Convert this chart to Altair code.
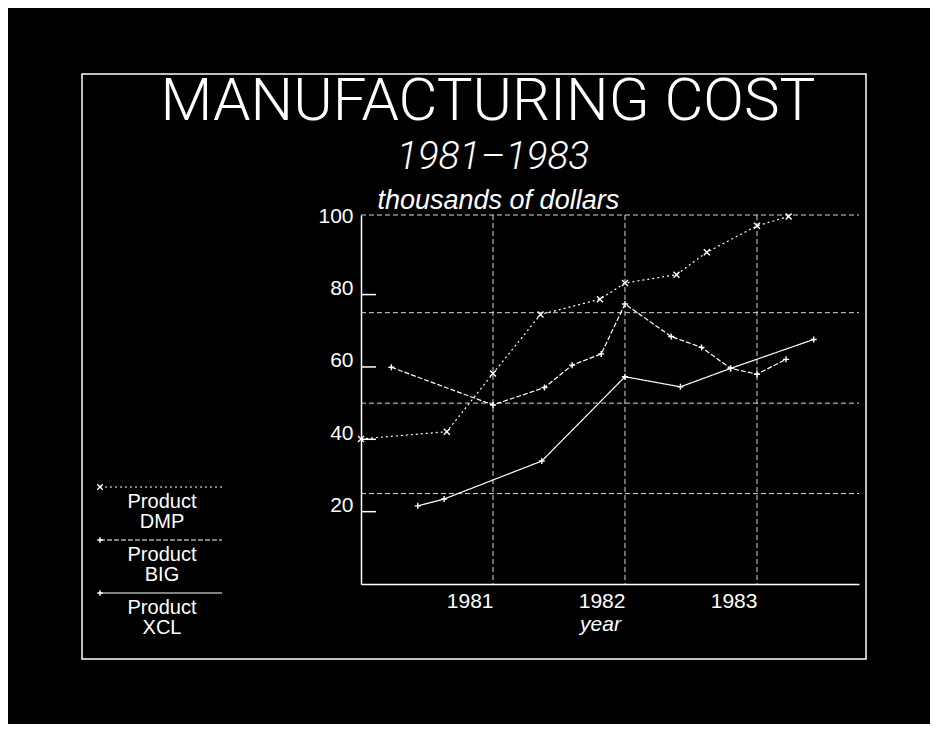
import altair as alt
import pandas as pd

# ---- data ----
products = ["DMP", "BIG", "XCL"]

dmp_year = [1980.0, 1980.65, 1981.0, 1981.36, 1981.81, 1982.0, 1982.39, 1982.62, 1983.0, 1983.24]
dmp_cost = [40.1, 42.1, 58.2, 74.5, 78.7, 83.2, 85.5, 91.7, 99.0, 101.6]

big_year = [1980.23, 1981.0, 1981.39, 1981.60, 1981.82, 1982.0, 1982.35, 1982.58, 1982.80, 1983.0, 1983.22]
big_cost = [59.9, 49.5, 54.3, 60.5, 63.6, 77.4, 68.4, 65.4, 59.6, 58.0, 62.1]

xcl_year = [1980.43, 1980.63, 1981.37, 1982.0, 1982.42, 1982.80, 1983.43]
xcl_cost = [21.6, 23.5, 34.0, 57.3, 54.5, 59.6, 67.6]

year_ticks = [1981, 1982, 1983]
cost_ticks = [20, 40, 60, 80, 100]
cost_grid = [25, 50, 75, 102]

title_text = "MANUFACTURING COST"
subtitle_text = "1981\u20131983"
y_title = "thousands of dollars"
x_title = "year"
legend_prefix = "Product"

# ---- table ----
rows = []
for name, yrs, cs in [("DMP", dmp_year, dmp_cost), ("BIG", big_year, big_cost), ("XCL", xcl_year, xcl_cost)]:
    for y, c in zip(yrs, cs):
        rows.append({"product": name, "year": y, "cost": c})
df = pd.DataFrame(rows)

W, H = 498, 369
FONT = "Liberation Sans"
WHITE = "#ffffff"
GRID = "#d8d8d8"

xs = alt.Scale(domain=[1980, 1983.773], nice=False, zero=False)
ys = alt.Scale(domain=[0, 102], nice=False, zero=True)

x_axis = alt.Axis(
    values=year_ticks, format="d", ticks=False, grid=False,
    domainColor=WHITE, domainWidth=1.5,
    labelColor=WHITE, labelFont=FONT, labelFontSize=21,
    labelAlign="right", labelBaseline="top", labelPadding=6, labelFlush=False,
    title=x_title, titleColor=WHITE, titleFont=FONT, titleFontSize=21,
    titleFontStyle="italic", titleFontWeight="normal",
    titleX=239, titleY=46, titleAlign="center", titleBaseline="alphabetic")
y_axis = alt.Axis(
    values=cost_ticks, ticks=False, grid=False,
    domainColor=WHITE, domainWidth=1.5,
    labelColor=WHITE, labelFont=FONT, labelFontSize=21,
    labelBaseline="alphabetic", labelPadding=8, labelFlush=False,
    title=y_title, titleColor=WHITE, titleFont=FONT, titleFontSize=27,
    titleFontStyle="italic", titleFontWeight="normal", titleAngle=0,
    titleX=16, titleY=-7, titleAlign="left", titleBaseline="alphabetic")

X = alt.X("year:Q", scale=xs, axis=x_axis)
Y = alt.Y("cost:Q", scale=ys, axis=y_axis)

x_path = "M-1,-1L1,1M-1,1L1,-1"
plus_path = "M-1,0L1,0M0,-1L0,1"
dash_range = [[2, 3], [5, 2], [1, 0]]
shape_range = [x_path, plus_path, plus_path]

lines = alt.Chart(df).mark_line(color=WHITE, strokeWidth=1.2).encode(
    x=X, y=Y,
    strokeDash=alt.StrokeDash("product:N", scale=alt.Scale(domain=products, range=dash_range), legend=None),
    detail="product:N",
)

points = alt.Chart(df).mark_point(filled=False, color=WHITE, strokeWidth=1.4, size=36, opacity=1).encode(
    x=X, y=Y,
    shape=alt.Shape("product:N", scale=alt.Scale(domain=products, range=shape_range), legend=None),
)

hgrid = alt.Chart(pd.DataFrame({"cost": cost_grid})).mark_rule(
    color=GRID, strokeWidth=1, strokeDash=[5, 3]).encode(
    y=Y, x=alt.value(0), x2=alt.value(W))

vgrid = alt.Chart(pd.DataFrame({"year": year_ticks})).mark_rule(
    color=GRID, strokeWidth=1, strokeDash=[5, 3]).encode(
    x=X, y=alt.value(0), y2=alt.value(H))

yticks = alt.Chart(pd.DataFrame({"cost": cost_ticks[:-1]})).mark_rule(
    color=WHITE, strokeWidth=1.5).encode(
    y=Y, x=alt.value(0), x2=alt.value(15))

# ---- titles & frame ----
title = alt.Chart(pd.DataFrame({"t": [title_text]})).mark_text(
    font="Roboto", fontWeight=300, fontSize=60, color=WHITE, align="center", baseline="alphabetic").encode(
    text="t:N", x=alt.value(127), y=alt.value(-95))
subtitle = alt.Chart(pd.DataFrame({"t": [subtitle_text]})).mark_text(
    font="Roboto", fontWeight=300, fontStyle="italic", fontSize=39, color=WHITE,
    align="center", baseline="alphabetic").encode(
    text="t:N", x=alt.value(132), y=alt.value(-46))

frame = alt.Chart(pd.DataFrame({"a": [0]})).mark_rect(
    fill=None, stroke=WHITE, strokeWidth=1.5).encode(
    x=alt.value(-279), x2=alt.value(505), y=alt.value(-141), y2=alt.value(444))

# ---- custom legend ----
legend_layers = []
for i, name in enumerate(products):
    ly = 272 + i * 53
    legend_layers.append(alt.Chart(pd.DataFrame({"p": [name]})).mark_rule(
        color=WHITE, strokeWidth=1.2, strokeDash=dash_range[i]).encode(
        x=alt.value(-261), x2=alt.value(-139), y=alt.value(ly)))
    legend_layers.append(alt.Chart(pd.DataFrame({"p": [name]})).mark_point(
        filled=False, color=WHITE, strokeWidth=1.4, size=30, opacity=1, shape=shape_range[i]).encode(
        x=alt.value(-261), y=alt.value(ly)))
    legend_layers.append(alt.Chart(pd.DataFrame({"t": [legend_prefix]})).mark_text(
        font=FONT, fontSize=20, color=WHITE, align="center", baseline="alphabetic").encode(
        text="t:N", x=alt.value(-199), y=alt.value(ly + 21)))
    legend_layers.append(alt.Chart(pd.DataFrame({"t": [name]})).mark_text(
        font=FONT, fontSize=20, color=WHITE, align="center", baseline="alphabetic").encode(
        text="t:N", x=alt.value(-199), y=alt.value(ly + 41)))

chart = alt.layer(hgrid, vgrid, yticks, lines, points, title, subtitle, frame, *legend_layers).properties(
    width=W, height=H, background="#000000",
    padding={"left": 353, "top": 207, "right": 71, "bottom": 140},
    autosize=alt.AutoSizeParams(type="none"),
).configure_view(stroke=None)

chart.save("out.html", embed_options={"renderer": "svg", "actions": False})
